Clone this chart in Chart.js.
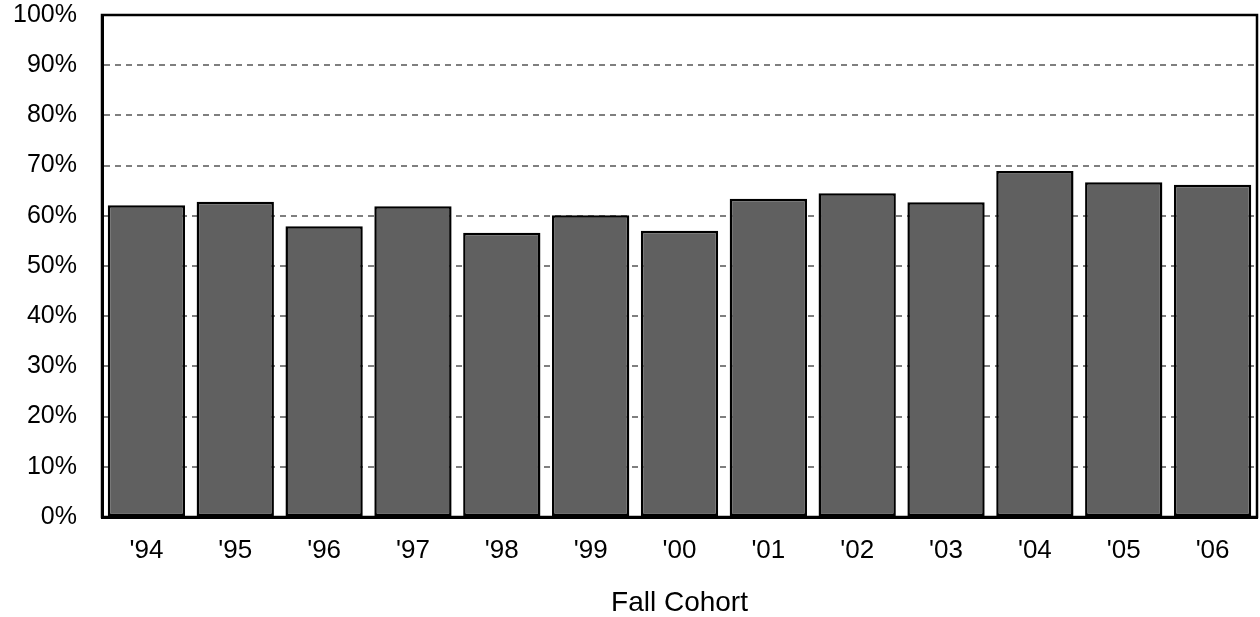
<!DOCTYPE html>
<html>
<head>
<meta charset="utf-8">
<script src="https://cdn.jsdelivr.net/npm/chart.js@4"></script>
<style>
  html, body { margin: 0; padding: 0; background: #fff; }
  #wrap { width: 1260px; height: 617px; }
</style>
</head>
<body>
<div id="wrap"><canvas id="myChart" width="1260" height="617"></canvas></div>
<script>
// data
const cohorts = ["'94", "'95", "'96", "'97", "'98", "'99", "'00", "'01", "'02", "'03", "'04", "'05", "'06"];
const rates = [62.1, 62.8, 57.9, 61.9, 56.6, 60.1, 57.0, 63.4, 64.5, 62.7, 68.9, 66.7, 66.2];
const yTicks = [0, 10, 20, 30, 40, 50, 60, 70, 80, 90, 100];
const xTitle = "Fall Cohort";

const fontFamily = "'Liberation Sans', Arial, sans-serif";

// frame around the plot area (top and right edges)
const frame = {
    id: 'frame',
    afterDraw(chart) {
        const a = chart.chartArea;
        const c = chart.ctx;
        c.save();
        c.strokeStyle = '#000';
        c.lineWidth = 2.5;
        c.strokeRect(a.left, a.top, a.right - a.left, a.bottom - a.top);
        c.restore();
    }
};

const ctx = document.getElementById('myChart').getContext('2d');
const myChart = new Chart(ctx, {
    type: 'bar',
    data: {
        labels: cohorts,
        datasets: [{
            data: rates,
            backgroundColor: '#606060',
            borderColor: '#000',
            borderWidth: 2.5,
            borderSkipped: false,
            categoryPercentage: 0.87,
            barPercentage: 1
        }]
    },
    options: {
        responsive: false,
        animation: false,
        layout: { padding: { top: 15, right: 3, left: 0, bottom: 0 } },
        plugins: { legend: { display: false }, tooltip: { enabled: false } },
        scales: {
            x: {
                grid: { display: false },
                border: { color: '#000', width: 3 },
                ticks: { color: '#000', font: { family: fontFamily, size: 26 }, padding: 10.5 },
                title: {
                    display: true,
                    text: xTitle,
                    color: '#000',
                    font: { family: fontFamily, size: 28, lineHeight: 1 },
                    padding: { top: 11.8, bottom: 0 }
                }
            },
            y: {
                min: 0,
                max: 100,
                afterBuildTicks(scale) { scale.ticks = yTicks.map(v => ({ value: v })); },
                afterFit(scale) {
                    scale.width = 102;
                    scale.paddingTop = 0;
                    scale.paddingBottom = 0;
                },
                grid: { color: '#7f7f7f', lineWidth: 2, drawTicks: false },
                border: { color: '#000', width: 3, dash: [6, 5] },
                ticks: {
                    color: '#000',
                    padding: 25,
                    font: { family: fontFamily, size: 25 },
                    callback: v => v + '%'
                }
            }
        }
    },
    plugins: [frame]
});
</script>
</body>
</html>
